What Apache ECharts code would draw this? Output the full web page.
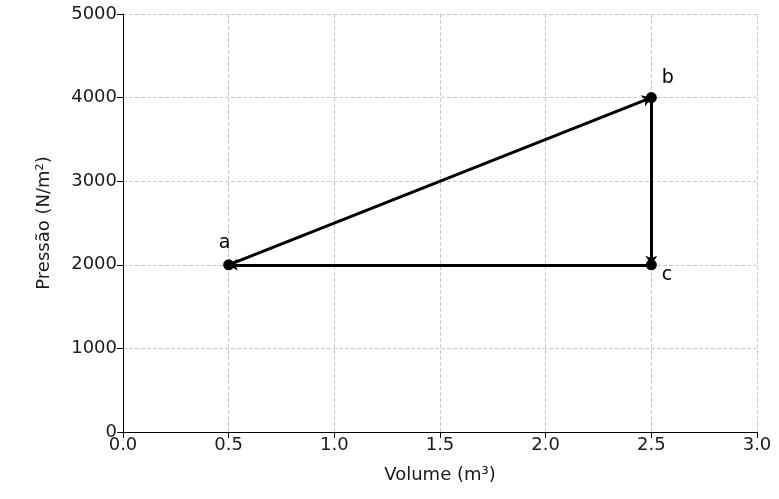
<!DOCTYPE html>
<html><head><meta charset="utf-8">
<script src="https://cdn.jsdelivr.net/npm/echarts@6/dist/echarts.min.js"></script>
<style>html,body{margin:0;padding:0;background:#fff}#c{width:779px;height:499px}</style>
</head><body><div id="c"></div>
<script>
const pointNames = ['a','b','c'];
const volumes = [0.5, 2.5, 2.5];
const pressures = [2000, 4000, 2000];
const pathOrder = [[0,1],[1,2],[2,0]];
const labelPos = ['top','right','right'];

const font = 'DejaVu Sans';
const chart = echarts.init(document.getElementById('c'));
const segs = pathOrder.map(([i,j]) => ({coords: [[volumes[i],pressures[i]],[volumes[j],pressures[j]]]}));
chart.setOption({
  animation:false,
  grid:{left:123,right:22,top:14,bottom:67},
  xAxis:{type:'value',min:0,max:3,interval:0.5,name:'Volume (m³)',nameLocation:'middle',nameGap:34,
    nameTextStyle:{fontFamily:font,fontSize:18,color:'#1a1a1a'},
    axisLine:{lineStyle:{color:'#000'}},axisTick:{show:true,length:6,lineStyle:{color:'#000'}},
    axisLabel:{fontFamily:font,fontSize:18,color:'#1a1a1a',margin:4,formatter:v=>v.toFixed(1)},
    splitLine:{lineStyle:{type:'dashed',color:'#ccc'}}},
  yAxis:{type:'value',min:0,max:5000,interval:1000,name:'Pressão (N/m²)',nameLocation:'middle',nameGap:70,
    nameTextStyle:{fontFamily:font,fontSize:18,color:'#1a1a1a'},
    axisLine:{show:true,lineStyle:{color:'#000'}},axisTick:{show:true,length:6,lineStyle:{color:'#000'}},
    axisLabel:{fontFamily:font,fontSize:18,color:'#1a1a1a',margin:6,formatter:v=>String(v)},
    splitLine:{lineStyle:{type:'dashed',color:'#ccc'}}},
  series:[
    {type:'lines',coordinateSystem:'cartesian2d',data:segs,symbol:['none','arrow'],symbolSize:9,
     lineStyle:{color:'#000',width:3,opacity:1}},
    {type:'scatter',symbolSize:11,itemStyle:{color:'#000',opacity:1},z:5,
     data:pointNames.map((n,i)=>({value:[volumes[i],pressures[i]],name:n,label:{show:true,position:labelPos[i],formatter:n,fontFamily:font,fontSize:19,color:'#000',offset:i===0?[-4,-2]:(i===1?[0,-20]:[0,10])}}))}
  ]
});
</script></body></html>
